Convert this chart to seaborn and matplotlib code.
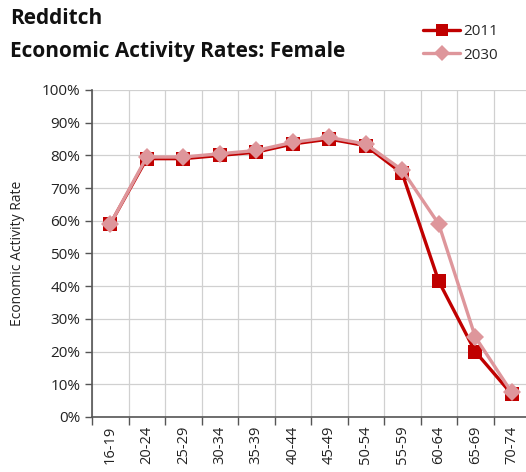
import matplotlib
matplotlib.use("Agg")
import matplotlib.pyplot as plt
from matplotlib.ticker import FixedLocator, PercentFormatter
from matplotlib.lines import Line2D
import seaborn as sns
import pandas as pd

age_groups = ["16-19", "20-24", "25-29", "30-34", "35-39", "40-44",
              "45-49", "50-54", "55-59", "60-64", "65-69", "70-74"]
rate_2011 = [59, 79, 79, 80, 81, 83.5, 85, 83, 74.5, 41.5, 20, 7]
rate_2030 = [59, 79.5, 79.5, 80.5, 81.5, 84, 85.5, 83.5, 75.5, 59, 24.5, 7.5]

col_2011 = "#C00000"
col_2030 = "#DE969B"

sns.set_theme(style="white")
plt.rcParams["font.family"] = ["Open Sans", "DejaVu Sans"]

df = pd.DataFrame({"age": list(range(len(age_groups))) * 2,
                   "rate": rate_2011 + rate_2030,
                   "year": ["2011"] * len(age_groups) + ["2030"] * len(age_groups)})

fig = plt.figure(figsize=(5.26, 4.72), dpi=100)
ax = fig.add_axes([92 / 526, 55 / 472, 438 / 526, 327 / 472])

sns.lineplot(data=df[df.year == "2011"], x="age", y="rate", ax=ax, color=col_2011,
             marker="s", markersize=10, markeredgewidth=0, linewidth=2.4, legend=False)
sns.lineplot(data=df[df.year == "2030"], x="age", y="rate", ax=ax, color=col_2030,
             marker="D", markersize=9, markeredgewidth=0, linewidth=2.4, legend=False)

n = len(age_groups)
ax.set_xlim(-0.5, n - 0.5)
ax.set_ylim(0, 100)
ax.xaxis.set_major_locator(FixedLocator([i - 0.5 for i in range(n + 1)]))
ax.xaxis.set_minor_locator(FixedLocator(list(range(n))))
ax.set_xticklabels([""] * (n + 1))
ax.set_xticklabels(age_groups, minor=True, rotation=90, fontsize=10.5, color="#222222")
ax.tick_params(axis="x", which="major", length=6, width=1, color="#555555", direction="out", bottom=True)
ax.tick_params(axis="x", which="minor", length=0, pad=6)
ax.set_yticks(range(0, 101, 10))
ax.yaxis.set_major_formatter(PercentFormatter(decimals=0))
ax.tick_params(axis="y", length=5, width=1, color="#555555", direction="out", left=True,
               labelsize=11, labelcolor="#222222")
ax.grid(True, which="major", color="#D0D0D0", linewidth=0.9)
ax.set_axisbelow(True)
for s in ["top", "right"]:
    ax.spines[s].set_visible(False)
for s in ["left", "bottom"]:
    ax.spines[s].set_color("#555555")
    ax.spines[s].set_linewidth(1.2)
ax.set_xlabel("")
ax.set_ylabel("Economic Activity Rate", fontsize=10, color="#222222", labelpad=12)

fig.text(10 / 526, 1 - 19 / 472, "Redditch", fontsize=15, fontweight="bold",
         va="center", ha="left", color="#111111")
fig.text(10 / 526, 1 - 51 / 472, "Economic Activity Rates: Female", fontsize=15,
         fontweight="bold", va="center", ha="left", color="#111111")

handles = [Line2D([], [], color=col_2011, marker="s", markersize=9, markeredgewidth=0, linewidth=2.4),
           Line2D([], [], color=col_2030, marker="D", markersize=8, markeredgewidth=0, linewidth=2.4)]
fig.legend(handles, ["2011", "2030"], loc="upper right", bbox_to_anchor=(504 / 526, 1 - 18 / 472),
           frameon=False, fontsize=11, handlelength=2.4, handletextpad=0.2,
           labelspacing=0.55, borderaxespad=0)

fig.savefig("out.png", dpi=100)
